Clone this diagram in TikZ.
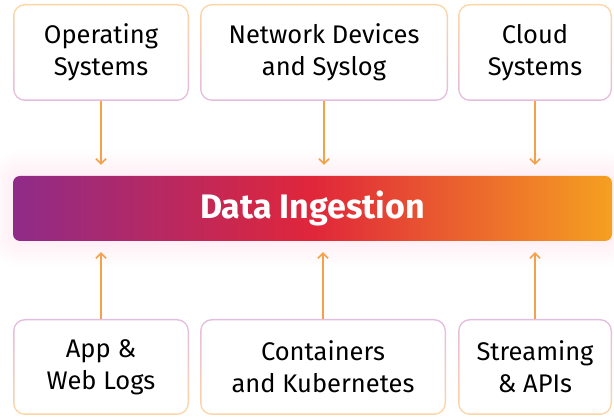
\documentclass[tikz,border=0pt]{standalone}
\usepackage{fontspec}
\setmainfont{Fira Sans}
\usetikzlibrary{arrows.meta}

\definecolor{ingpurple}{HTML}{8F2B88}
\definecolor{ingred}{HTML}{E0263A}
\definecolor{ingorange}{HTML}{F5A021}
\definecolor{rimorange}{HTML}{FDD6A4}
\definecolor{rimlilac}{HTML}{E4BCE0}
\definecolor{arroworange}{HTML}{F7A04A}
\definecolor{glowpink}{HTML}{FF6FA8}

\tikzstyle{line} = [draw, color=arroworange, line width=1.5pt, -{Straight Barb[length=5pt,width=10pt]}]
\tikzstyle{source} = [rectangle, rounded corners=12pt, align=center, font=\fontsize{25.5}{32}\selectfont,
  inner sep=0pt, path picture={
    \shade[top color=\rimtop, bottom color=\rimbottom] (path picture bounding box.south west) rectangle (path picture bounding box.north east);
    \fill[white, rounded corners=10.5pt] ([shift={(1.5pt,1.5pt)}]path picture bounding box.south west) rectangle ([shift={(-1.5pt,-1.5pt)}]path picture bounding box.north east);}]
\newcommand{\rimtop}{rimorange}
\newcommand{\rimbottom}{rimlilac}

\begin{document}
\begin{tikzpicture}[x=1pt,y=1pt]
		\useasboundingbox (0,0) rectangle (614,417);
		
		%glow
		\foreach \r in {2,4,...,26}
			\fill[glowpink, opacity=0.008, rounded corners=8pt+\r pt] (13-\r,176-\r) rectangle (612+\r,241+\r);
		
		%ingestion bar
		\node[rectangle, rounded corners=7pt, minimum width=599pt, minimum height=65pt, left color=ingpurple, right color=ingorange, middle color=ingred, text=white, font=\bfseries\fontsize{34}{40}\selectfont](ingest) at (312.5,208.5) {Data Ingestion};
		
		%top sources
		\node[source, minimum width=176pt, minimum height=97pt](os) at (101,364.5) {Operating\\Systems};
		\node[source, minimum width=248pt, minimum height=97pt](net) at (324,364.5) {Network Devices\\and Syslog};
		\node[source, minimum width=154pt, minimum height=97pt](cloud) at (535,364.5) {Cloud\\Systems};
		
		%bottom sources
		\renewcommand{\rimtop}{rimlilac}
		\renewcommand{\rimbottom}{rimorange}
		\node[source, minimum width=176pt, minimum height=96pt](app) at (101,50) {App \&\\Web Logs};
		\node[source, minimum width=246pt, minimum height=96pt](kube) at (323,50) {Containers\\and Kubernetes};
		\node[source, minimum width=154pt, minimum height=96pt](stream) at (535,50) {Streaming\\\& APIs};
		
		%arrows
		\path[line, shorten >=11pt] (os.south) -- (os.south |- ingest.north);
		\path[line, shorten >=11pt] (net.south) -- (net.south |- ingest.north);
		\path[line, shorten >=11pt] (cloud.south) -- (cloud.south |- ingest.north);
		\path[line, shorten >=11pt] (app.north) -- (app.north |- ingest.south);
		\path[line, shorten >=11pt] (kube.north) -- (kube.north |- ingest.south);
		\path[line, shorten >=11pt] (stream.north) -- (stream.north |- ingest.south);
\end{tikzpicture}
\end{document}
